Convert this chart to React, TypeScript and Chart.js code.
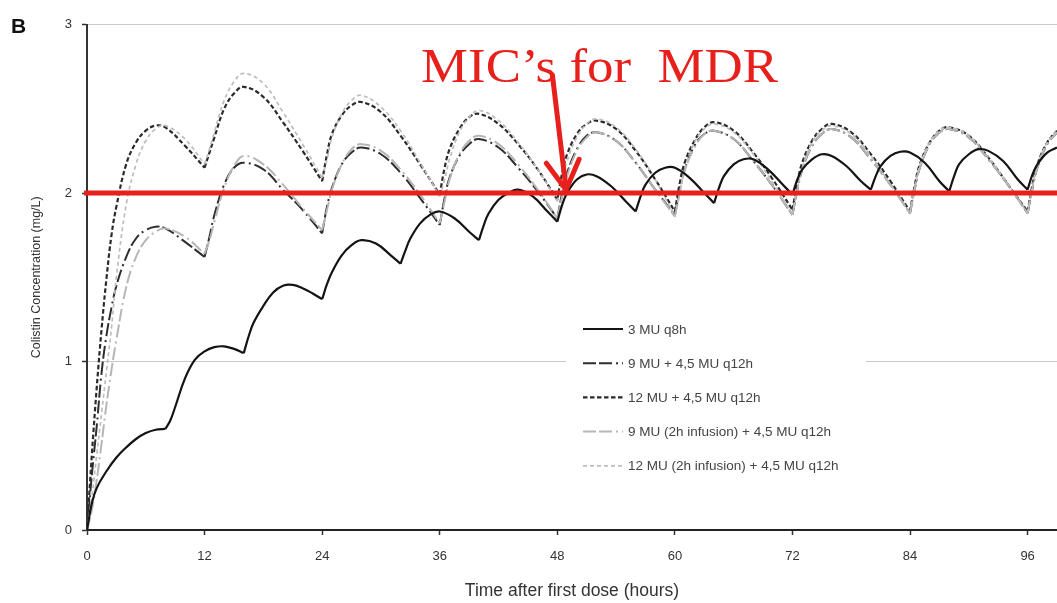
import React, { useEffect, useRef } from 'react';
import { Chart, registerables } from 'chart.js';

Chart.register(...registerables);

// ---------- data ----------
const seriesLabels = [
  '3 MU q8h',
  '9 MU + 4,5 MU q12h',
  '12 MU + 4,5 MU q12h',
  '9 MU (2h infusion) + 4,5 MU q12h',
  '12 MU (2h infusion) + 4,5 MU q12h',
];

const dosesQ8 = [0, 8, 16, 24, 32, 40, 48, 56, 64, 72, 80, 88, 96];
const dosesQ12 = [0, 12, 24, 36, 48, 60, 72, 84, 96];

const hoursQ8 = [
  0, 0.5, 1, 2, 3, 4, 5, 6, 7,
  8, 8.5, 9, 10, 11, 12, 13, 14, 15,
  16, 16.5, 17, 18, 19, 20, 21, 22, 23,
  24, 24.5, 25, 26, 27, 28, 29.5, 31,
  32, 32.5, 33, 34, 35, 36, 37.5, 39,
  40, 40.5, 41, 42, 43, 44, 45.5, 47,
  48, 48.5, 49, 50, 51, 52, 53.5, 55,
  56, 56.5, 57, 58, 59, 60, 61.5, 63,
  64, 64.5, 65, 66, 67, 68, 69.5, 71,
  72, 72.5, 73, 74, 75, 76, 77.5, 79,
  80, 80.5, 81, 82, 83, 84, 85.5, 87,
  88, 88.5, 89, 90, 91, 92, 93.5, 95,
  96, 96.5, 97, 98, 99,
];

const conc3MUq8h = [
  0, 0.16, 0.25, 0.35, 0.43, 0.49, 0.54, 0.575, 0.595,
  0.6, 0.65, 0.73, 0.9, 1.01, 1.06, 1.085, 1.09, 1.075,
  1.05, 1.15, 1.23, 1.33, 1.41, 1.45, 1.455, 1.435, 1.405,
  1.37, 1.46, 1.53, 1.63, 1.69, 1.72, 1.7, 1.63,
  1.58, 1.66, 1.73, 1.82, 1.87, 1.89, 1.85, 1.77,
  1.72, 1.81, 1.88, 1.96, 2.0, 2.02, 1.98, 1.89,
  1.83, 1.93, 2.0, 2.08, 2.11, 2.1, 2.04, 1.95,
  1.89, 1.98, 2.05, 2.12, 2.15, 2.15, 2.09, 2.0,
  1.94, 2.03, 2.1, 2.17, 2.2, 2.2, 2.14, 2.05,
  1.99, 2.08, 2.14, 2.2, 2.23, 2.22, 2.16, 2.07,
  2.02, 2.1, 2.16, 2.22, 2.245, 2.24, 2.18, 2.07,
  2.01, 2.1, 2.17, 2.23, 2.26, 2.25, 2.19, 2.08,
  2.02, 2.11, 2.17, 2.24, 2.27,
];

const hoursQ12 = [
  0, 0.5, 1, 1.5, 2, 2.5, 3, 4, 5, 6, 7, 8, 10,
  12, 12.5, 13, 14, 15, 16, 18, 20, 22,
  24, 24.5, 25, 26, 27, 28, 30, 32, 34,
  36, 36.5, 37, 38, 39, 40, 42, 44, 46,
  48, 48.5, 49, 50, 51, 52, 54, 56, 58,
  60, 60.5, 61, 62, 63, 64, 66, 68, 70,
  72, 72.5, 73, 74, 75, 76, 78, 80, 82,
  84, 84.5, 85, 86, 87, 88, 90, 92, 94,
  96, 96.5, 97, 98, 99,
];

const conc9MU = [
  0, 0.33, 0.62, 0.94, 1.16, 1.32, 1.45, 1.62, 1.73, 1.78, 1.8, 1.79, 1.71,
  1.62, 1.74, 1.87, 2.05, 2.15, 2.18, 2.14, 2.02, 1.9,
  1.76, 1.92, 2.03, 2.17, 2.24, 2.27, 2.23, 2.12, 1.97,
  1.81, 1.97, 2.09, 2.22, 2.29, 2.32, 2.27, 2.15, 2.01,
  1.85, 2.0, 2.12, 2.26, 2.34, 2.36, 2.31, 2.18, 2.02,
  1.87, 2.02, 2.14, 2.28, 2.35, 2.37, 2.32, 2.19, 2.04,
  1.87, 2.02, 2.14, 2.28, 2.35, 2.38, 2.33, 2.2, 2.05,
  1.88, 2.03, 2.15, 2.29, 2.36, 2.38, 2.33, 2.2, 2.05,
  1.88, 2.03, 2.15, 2.29, 2.36,
];

const conc12MU = [
  0, 0.45, 0.85, 1.2, 1.5, 1.75, 1.92, 2.17, 2.3, 2.37, 2.4, 2.39, 2.28,
  2.15, 2.24, 2.33, 2.5, 2.59, 2.63, 2.57, 2.42, 2.25,
  2.07, 2.23, 2.35, 2.46, 2.52, 2.54, 2.48, 2.34, 2.17,
  1.99, 2.15, 2.26, 2.38, 2.45, 2.47, 2.41, 2.29, 2.14,
  1.96, 2.12, 2.23, 2.35, 2.41, 2.43, 2.38, 2.25, 2.08,
  1.89, 2.06, 2.18, 2.31, 2.39, 2.42, 2.37, 2.24, 2.08,
  1.9, 2.06, 2.18, 2.31, 2.38, 2.41, 2.36, 2.23, 2.07,
  1.89, 2.05, 2.17, 2.3, 2.37, 2.39, 2.34, 2.21, 2.05,
  1.89, 2.05, 2.17, 2.3, 2.37,
];

const conc9MU2h = [
  0, 0.12, 0.3, 0.52, 0.75, 0.95, 1.13, 1.44, 1.62, 1.72, 1.77, 1.79, 1.74,
  1.64, 1.72, 1.83, 2.03, 2.16, 2.22, 2.17, 2.05, 1.91,
  1.78, 1.9, 2.02, 2.17, 2.26, 2.29, 2.25, 2.14, 1.99,
  1.82, 1.95, 2.08, 2.23, 2.31, 2.34, 2.29, 2.17, 2.02,
  1.85, 1.98, 2.1, 2.25, 2.33, 2.36, 2.31, 2.18, 2.02,
  1.86, 2.0, 2.13, 2.27, 2.35, 2.37, 2.32, 2.19, 2.04,
  1.87, 2.02, 2.14, 2.28, 2.35, 2.38, 2.33, 2.2, 2.05,
  1.88, 2.03, 2.15, 2.29, 2.36, 2.38, 2.33, 2.2, 2.05,
  1.88, 2.03, 2.15, 2.29, 2.36,
];

const conc12MU2h = [
  0, 0.2, 0.45, 0.7, 0.95, 1.2, 1.5, 1.93, 2.17, 2.31, 2.38, 2.4, 2.32,
  2.17, 2.26, 2.36, 2.55, 2.66, 2.71, 2.65, 2.48, 2.29,
  2.09, 2.2, 2.33, 2.47, 2.55, 2.58, 2.51, 2.37, 2.18,
  1.98, 2.08, 2.2, 2.36, 2.45, 2.49, 2.43, 2.3, 2.14,
  1.95, 2.07, 2.19, 2.33, 2.41, 2.44, 2.39, 2.26, 2.08,
  1.86, 2.0, 2.14, 2.3, 2.38, 2.41, 2.36, 2.23, 2.06,
  1.87, 2.02, 2.15, 2.3, 2.37, 2.4, 2.35, 2.22, 2.05,
  1.88, 2.04, 2.16, 2.3, 2.37, 2.39, 2.34, 2.21, 2.05,
  1.88, 2.04, 2.16, 2.3, 2.37,
];

const xTickValues = [0, 12, 24, 36, 48, 60, 72, 84, 96];
const yTickValues = [0, 1, 2, 3];
const micLevel = 2;
const micArrow = { fromHour: 47.5, fromConc: 2.7, toHour: 48.9, toConc: 2.02 };
const micText = 'MIC\u2019s for  MDR';
const panelLetter = 'B';
const xTitle = 'Time after first dose (hours)';
const yTitle = 'Colistin Concentration (mg/L)';

// ---------- styles ----------
const FONT = "'Liberation Sans', Arial, Helvetica, sans-serif";
const SERIF = "'Liberation Serif', 'Times New Roman', serif";
const RED = '#e8201c';
const TEXT = '#333333';

const seriesStyles = [
  { color: '#141414', width: 2.2, dash: [] as number[], order: 0 },
  { color: '#2e2e2e', width: 2, dash: [13, 3, 13, 4, 2, 4], order: 4 },
  { color: '#2a2a2a', width: 2.2, dash: [4.5, 2.5], order: 3 },
  { color: '#b6b6b6', width: 2, dash: [13, 3, 13, 4, 2, 4], order: 2 },
  { color: '#bdbdbd', width: 1.7, dash: [4, 3], order: 1 },
];

const seriesData = [
  { times: hoursQ8, values: conc3MUq8h, doses: dosesQ8 },
  { times: hoursQ12, values: conc9MU, doses: dosesQ12 },
  { times: hoursQ12, values: conc12MU, doses: dosesQ12 },
  { times: hoursQ12, values: conc9MU2h, doses: dosesQ12 },
  { times: hoursQ12, values: conc12MU2h, doses: dosesQ12 },
];

type Pt = { x: number; y: number };

// each dosing interval becomes its own smooth segment so the dose troughs stay sharp
function splitAtDoses(times: number[], values: number[], doses: number[]): Pt[][] {
  const segments: Pt[][] = [];
  doses.forEach((start, i) => {
    const end = i + 1 < doses.length ? doses[i + 1] : Infinity;
    const seg: Pt[] = [];
    times.forEach((t, j) => {
      if (t >= start && t <= end) seg.push({ x: t, y: values[j] });
    });
    if (seg.length > 1) segments.push(seg);
  });
  return segments;
}

const micPlugin = {
  id: 'micAnnotation',
  afterDatasetsDraw(chart: any) {
    const { ctx, chartArea, scales } = chart;
    const xs = scales.x;
    const ys = scales.y;
    const yLine = ys.getPixelForValue(micLevel);
    ctx.save();
    ctx.strokeStyle = RED;
    ctx.lineWidth = 5;
    ctx.beginPath();
    ctx.moveTo(chartArea.left - 3, yLine);
    ctx.lineTo(chartArea.right, yLine);
    ctx.stroke();

    const x0 = xs.getPixelForValue(micArrow.fromHour);
    const y0 = ys.getPixelForValue(micArrow.fromConc);
    const x1 = xs.getPixelForValue(micArrow.toHour);
    const y1 = ys.getPixelForValue(micArrow.toConc);
    ctx.lineWidth = 5;
    ctx.lineCap = 'round';
    ctx.lineJoin = 'round';
    ctx.beginPath();
    ctx.moveTo(x0, y0);
    ctx.lineTo(x1, y1);
    ctx.stroke();
    const ang = Math.atan2(y1 - y0, x1 - x0);
    const len = 33;
    const spread = Math.PI / 6;
    ctx.beginPath();
    ctx.moveTo(x1 - len * Math.cos(ang - spread), y1 - len * Math.sin(ang - spread));
    ctx.lineTo(x1, y1);
    ctx.lineTo(x1 - len * Math.cos(ang + spread), y1 - len * Math.sin(ang + spread));
    ctx.stroke();
    ctx.restore();
  },
};

export default function App() {
  const canvasRef = useRef<HTMLCanvasElement | null>(null);

  useEffect(() => {
    const canvas = canvasRef.current;
    if (!canvas) return;

    const datasets: any[] = [];
    seriesData.forEach((s, si) => {
      const st = seriesStyles[si];
      splitAtDoses(s.times, s.values, s.doses).forEach((seg) => {
        datasets.push({
          label: seriesLabels[si],
          data: seg,
          borderColor: st.color,
          backgroundColor: st.color,
          borderWidth: st.width,
          borderDash: st.dash,
          borderCapStyle: 'butt',
          borderJoinStyle: 'round',
          pointRadius: 0,
          pointHoverRadius: 0,
          fill: false,
          tension: 0.4,
          order: st.order,
        });
      });
    });

    const chart = new Chart(canvas, {
      type: 'line',
      data: { datasets },
      options: {
        animation: false,
        responsive: false,
        maintainAspectRatio: false,
        events: [],
        layout: { padding: { top: 24.5, right: 0, bottom: 0, left: 0 } },
        plugins: {
          legend: { display: false },
          tooltip: { enabled: false },
        },
        scales: {
          x: {
            type: 'linear',
            min: 0,
            max: 99,
            afterBuildTicks: (scale: any) => {
              scale.ticks = xTickValues.map((v) => ({ value: v }));
            },
            afterFit: (scale: any) => {
              scale.height = 73;
            },
            ticks: {
              color: TEXT,
              font: { family: FONT, size: 13 },
              padding: 14,
              maxRotation: 0,
              autoSkip: false,
            },
            grid: {
              drawOnChartArea: false,
              drawTicks: true,
              tickLength: 5,
              tickColor: '#333',
              tickWidth: 1.5,
            },
            border: { color: '#222', width: 2 },
            title: {
              display: true,
              text: xTitle,
              color: TEXT,
              font: { family: FONT, size: 17.5 },
              padding: { top: 0, bottom: 1.5 },
            },
          },
          y: {
            type: 'linear',
            min: 0,
            max: 3,
            afterBuildTicks: (scale: any) => {
              scale.ticks = yTickValues.map((v) => ({ value: v }));
            },
            afterFit: (scale: any) => {
              scale.width = 87;
            },
            ticks: {
              color: TEXT,
              font: { family: FONT, size: 13 },
              padding: 10,
            },
            grid: {
              color: (c: any) => (c.tick && c.tick.value === 0 ? 'rgba(0,0,0,0)' : '#c9c9c9'),
              lineWidth: 1,
              tickLength: 5,
              tickColor: '#333',
              tickWidth: 1.5,
            },
            border: { color: '#333', width: 2 },
            title: {
              display: true,
              text: yTitle,
              color: TEXT,
              font: { family: FONT, size: 12.5 },
              padding: { top: 29.5, bottom: 0 },
            },
          },
        },
      } as any,
      plugins: [micPlugin],
    });

    return () => {
      chart.destroy();
    };
  }, []);

  return (
    <div
      style={{
        position: 'fixed',
        left: 0,
        top: 0,
        width: 1057,
        height: 603,
        overflow: 'hidden',
        background: '#fff',
      }}
    >
      <canvas ref={canvasRef} width={1057} height={603} style={{ display: 'block' }} />
      <svg
        width={1057}
        height={603}
        style={{ position: 'absolute', left: 0, top: 0, pointerEvents: 'none' }}
      >
        <text x={11} y={33} fontFamily={FONT} fontWeight="bold" fontSize={21} fill="#111">
          {panelLetter}
        </text>
        <text
          x={421}
          y={82}
          fontFamily={SERIF}
          fontSize={48}
          fill={RED}
          textLength={357}
          lengthAdjust="spacingAndGlyphs"
          xmlSpace="preserve"
          style={{ whiteSpace: 'pre' }}
        >
          {micText}
        </text>
        <rect x={566} y={312} width={300} height={168} fill="#fff" />
        {seriesLabels.map((label, i) => {
          const st = seriesStyles[i];
          const y = 329 + i * 34.2;
          return (
            <g key={label}>
              <line
                x1={583}
                x2={623}
                y1={y}
                y2={y}
                stroke={st.color}
                strokeWidth={st.width}
                strokeDasharray={st.dash.length ? st.dash.join(' ') : undefined}
              />
              <text x={628} y={y + 4.6} fontFamily={FONT} fontSize={13.5} fill="#444">
                {label}
              </text>
            </g>
          );
        })}
      </svg>
    </div>
  );
}
